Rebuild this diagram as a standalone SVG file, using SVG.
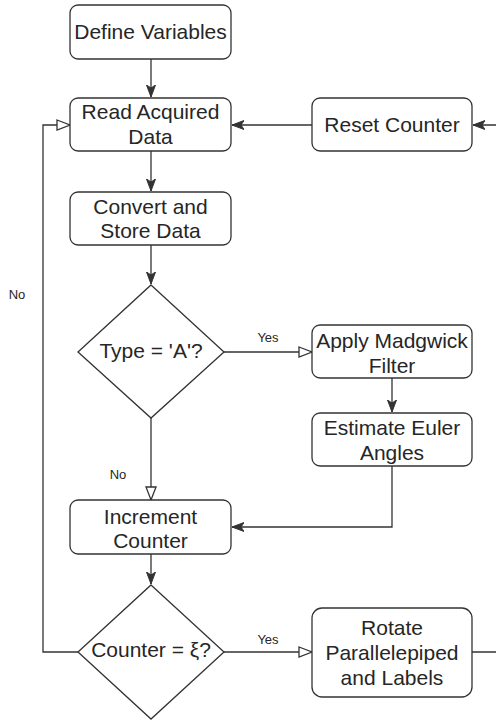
<svg xmlns="http://www.w3.org/2000/svg" width="496" height="720" viewBox="0 0 496 720">
<style>
.box{fill:#fff;stroke:#333;stroke-width:1.3}
.t{font-family:"Liberation Sans",Arial,sans-serif;font-size:21px;fill:#262626;text-anchor:middle}
.l{font-family:"Liberation Sans",Arial,sans-serif;font-size:13px;fill:#262626;text-anchor:middle}
.c{fill:none;stroke:#333;stroke-width:1.3}
</style>
<defs>
<marker id="fa" markerUnits="userSpaceOnUse" markerWidth="14" markerHeight="12" refX="12" refY="5" orient="auto">
<path d="M0,0.5 L12,5 L0,9.5 L3,5 Z" fill="#333" stroke="#333" stroke-width="1"/>
</marker>
<marker id="oa" markerUnits="userSpaceOnUse" markerWidth="16" markerHeight="13" refX="14" refY="6" orient="auto">
<path d="M1,1 L14,6 L1,11 Z" fill="#fff" stroke="#333" stroke-width="1.3"/>
</marker>
</defs>
<g id="connectors">
<path class="c" d="M151,59 V97" marker-end="url(#fa)"/>
<path class="c" d="M151,151 V191" marker-end="url(#fa)"/>
<path class="c" d="M151,245 V284" marker-end="url(#fa)"/>
<path class="c" d="M224,352 H312" marker-end="url(#oa)"/>
<path class="c" d="M392,378 V412" marker-end="url(#fa)"/>
<path class="c" d="M151,418 V500" marker-end="url(#oa)"/>
<path class="c" d="M392,466 V527 H232" marker-end="url(#fa)"/>
<path class="c" d="M151,554 V584" marker-end="url(#fa)"/>
<path class="c" d="M224,652 H312" marker-end="url(#oa)"/>
<path class="c" d="M78,652 H43 V125 H70" marker-end="url(#oa)"/>
<path class="c" d="M472,652 H510 V125 H473" marker-end="url(#fa)"/>
<path class="c" d="M312,125 H232" marker-end="url(#fa)"/>
<text class="l" x="268" y="342">Yes</text>
<text class="l" x="118" y="479">No</text>
<text class="l" x="268" y="644">Yes</text>
<text class="l" x="17" y="299">No</text>
</g>
<g id="define">
<rect class="box" x="70" y="5" width="161" height="54" rx="8"/>
<text class="t" x="150.5" y="39">Define Variables</text>
</g>
<g id="read">
<rect class="box" x="70" y="98" width="161" height="53" rx="8"/>
<text class="t" x="150.5" y="119">Read Acquired</text>
<text class="t" x="150.5" y="144">Data</text>
</g>
<g id="reset">
<rect class="box" x="312" y="98" width="160" height="53" rx="8"/>
<text class="t" x="392" y="132">Reset Counter</text>
</g>
<g id="convert">
<rect class="box" x="70" y="192" width="161" height="53" rx="8"/>
<text class="t" x="150.5" y="214">Convert and</text>
<text class="t" x="150.5" y="238">Store Data</text>
</g>
<g id="type">
<path class="box" d="M151,285 L224,352 L151,418 L78,352 Z"/>
<text class="t" x="151" y="358">Type = 'A'?</text>
</g>
<g id="madgwick">
<rect class="box" x="312" y="325" width="160" height="53" rx="8"/>
<text class="t" x="392" y="348">Apply Madgwick</text>
<text class="t" x="392" y="373">Filter</text>
</g>
<g id="euler">
<rect class="box" x="312" y="413" width="160" height="53" rx="8"/>
<text class="t" x="392" y="435">Estimate Euler</text>
<text class="t" x="392" y="460">Angles</text>
</g>
<g id="increment">
<rect class="box" x="70" y="500" width="161" height="54" rx="8"/>
<text class="t" x="150.5" y="524">Increment</text>
<text class="t" x="150.5" y="548">Counter</text>
</g>
<g id="counter">
<path class="box" d="M151,585 L224,652 L151,719 L78,652 Z"/>
<text class="t" x="151" y="657">Counter = ξ?</text>
</g>
<g id="rotate">
<rect class="box" x="312" y="608" width="160" height="89" rx="10"/>
<text class="t" x="392" y="635">Rotate</text>
<text class="t" x="392" y="660">Parallelepiped</text>
<text class="t" x="392" y="685">and Labels</text>
</g>
</svg>
